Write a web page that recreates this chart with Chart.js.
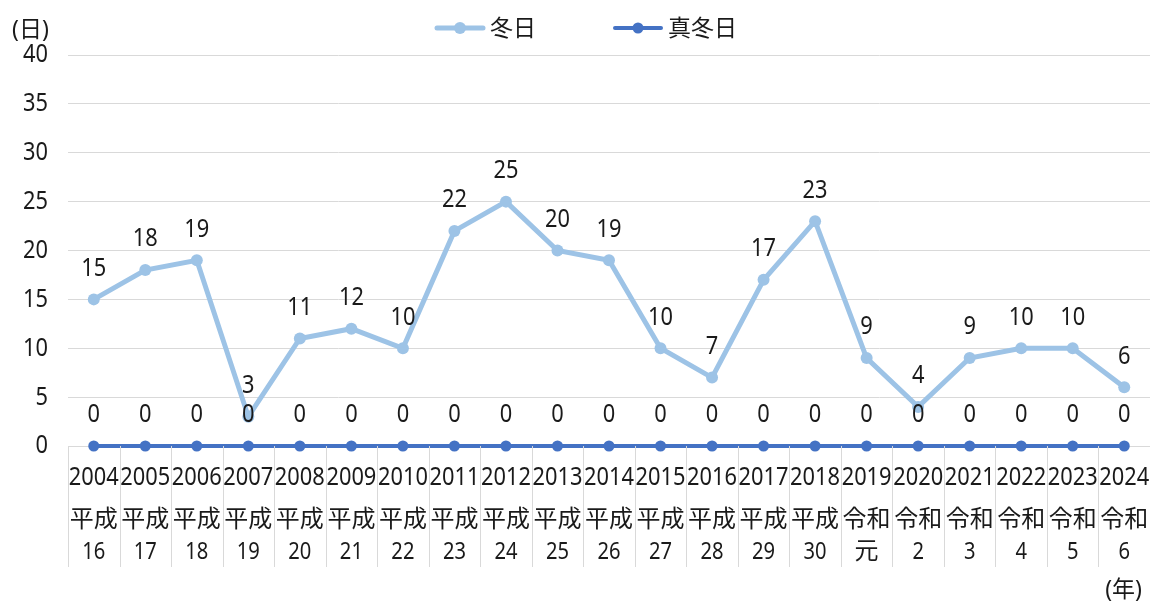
<!DOCTYPE html>
<html><head><meta charset="utf-8">
<script src="https://cdn.jsdelivr.net/npm/chart.js@4/dist/chart.umd.min.js"></script>
<style>html,body{margin:0;padding:0;background:#fff;overflow:hidden}#wrap{width:1150px;height:603px}canvas{display:block}</style>
</head><body><div id="wrap"><canvas id="c"></canvas></div>
<script>
const years = ['2004','2005','2006','2007','2008','2009','2010','2011','2012','2013','2014','2015','2016','2017','2018','2019','2020','2021','2022','2023','2024'];
const eras = [['平成','16'],['平成','17'],['平成','18'],['平成','19'],['平成','20'],['平成','21'],['平成','22'],['平成','23'],['平成','24'],['平成','25'],['平成','26'],['平成','27'],['平成','28'],['平成','29'],['平成','30'],['令和','元'],['令和','2'],['令和','3'],['令和','4'],['令和','5'],['令和','6']];
const fuyubi = [15,18,19,3,11,12,10,22,25,20,19,10,7,17,23,9,4,9,10,10,6];
const mafuyubi = [0,0,0,0,0,0,0,0,0,0,0,0,0,0,0,0,0,0,0,0,0];
const yTicks = [0,5,10,15,20,25,30,35,40];
const seriesNames = ['冬日','真冬日'];
const unitY = '(日)';
const unitX = '(年)';

// Condensed look for Latin/digit text (no narrow font installed)
(function () {
  const K = 0.84;
  const P = CanvasRenderingContext2D.prototype;
  const oFill = P.fillText, oMeasure = P.measureText;
  const ascii = s => /^[\x00-\x7f]*$/.test(String(s));
  P.fillText = function (t, x, y, mw) {
    if (ascii(t)) {
      const w = oMeasure.call(this, String(t)).width * K;
      return oFill.call(this, t, x, y, mw !== undefined ? Math.min(mw, w) : w);
    }
    return mw !== undefined ? oFill.call(this, t, x, y, mw) : oFill.call(this, t, x, y);
  };
  P.measureText = function (t) {
    const m = oMeasure.call(this, t);
    if (!ascii(t)) return m;
    return {width: m.width * K, actualBoundingBoxAscent: m.actualBoundingBoxAscent, actualBoundingBoxDescent: m.actualBoundingBoxDescent, actualBoundingBoxLeft: m.actualBoundingBoxLeft * K, actualBoundingBoxRight: m.actualBoundingBoxRight * K};
  };
})();

const FONT = "'Noto Sans','Noto Sans CJK JP',sans-serif";
const TXT = '#1a1a1a';
const GRID = '#d9d9d9';

const extras = {
  id: 'extras',
  afterDatasetsDraw(chart) {
    const ctx = chart.ctx;
    ctx.save();
    ctx.font = '26px ' + FONT;
    ctx.fillStyle = TXT;
    ctx.textAlign = 'center';
    ctx.textBaseline = 'middle';
    chart.data.datasets.forEach((ds, di) => {
      const meta = chart.getDatasetMeta(di);
      meta.data.forEach((pt, i) => {
        ctx.fillText(String(ds.data[i]), pt.x, pt.y - 31);
      });
    });
    ctx.restore();
  },
  afterDraw(chart) {
    const ctx = chart.ctx;
    const xs = chart.scales.x;
    const area = chart.chartArea;
    ctx.save();
    ctx.strokeStyle = GRID;
    ctx.lineWidth = 1;
    const n = xs.ticks.length;
    const step = n > 1 ? xs.getPixelForTick(1) - xs.getPixelForTick(0) : 0;
    for (let i = 0; i <= n; i++) {
      const x = Math.round(xs.getPixelForTick(0) - step / 2 + i * step) + 0.5;
      ctx.beginPath();
      ctx.moveTo(x, area.bottom);
      ctx.lineTo(x, 567);
      ctx.stroke();
    }
    ctx.fillStyle = TXT;
    ctx.font = '23px ' + FONT;
    ctx.textBaseline = 'middle';
    ctx.textAlign = 'left';
    ctx.fillText(unitY, 12, 30);
    ctx.textAlign = 'right';
    ctx.fillText(unitX, 1142, 590);
    const items = [{x: 435, ds: chart.data.datasets[0]}, {x: 613, ds: chart.data.datasets[1]}];
    items.forEach(it => {
      const y = 28;
      ctx.strokeStyle = it.ds.borderColor;
      ctx.lineWidth = it.ds.borderWidth;
      ctx.lineCap = 'round';
      ctx.beginPath();
      ctx.moveTo(it.x + 2, y);
      ctx.lineTo(it.x + 48, y);
      ctx.stroke();
      ctx.fillStyle = it.ds.borderColor;
      ctx.beginPath();
      ctx.arc(it.x + 25, y, it.ds.pointRadius, 0, Math.PI * 2);
      ctx.fill();
      ctx.fillStyle = TXT;
      ctx.textAlign = 'left';
      ctx.font = '23px ' + FONT;
      ctx.fillText(it.ds.label, it.x + 55, y + 1);
    });
    ctx.restore();
  }
};

new Chart(document.getElementById('c'), {
  type: 'line',
  data: {
    labels: years,
    datasets: [
      {label: seriesNames[0], data: fuyubi, borderColor: '#9dc3e6', backgroundColor: '#9dc3e6', borderWidth: 5, pointRadius: 6, pointHoverRadius: 6, pointBorderWidth: 0, tension: 0, clip: false},
      {label: seriesNames[1], data: mafuyubi, borderColor: '#4472c4', backgroundColor: '#4472c4', borderWidth: 4, pointRadius: 5.5, pointHoverRadius: 5.5, pointBorderWidth: 0, tension: 0, clip: false}
    ]
  },
  options: {
    responsive: true,
    maintainAspectRatio: false,
    animation: false,
    layout: {autoPadding: false, padding: {top: 55, right: 0, left: 0, bottom: 37}},
    plugins: {legend: {display: false}, tooltip: {enabled: false}},
    scales: {
      y: {
        min: 0, max: 40,
        afterBuildTicks(s) { s.ticks = yTicks.map(v => ({value: v})); },
        afterFit(s) { s.width = 68; s.paddingTop = 0; s.paddingBottom = 0; },
        grid: {color: GRID, lineWidth: 1, drawTicks: false},
        border: {display: false},
        ticks: {padding: 20, color: TXT, font: {size: 26, family: FONT}}
      },
      x: {
        type: 'category',
        offset: true,
        weight: 0,
        afterFit(s) { s.height = 46; s.paddingLeft = 0; s.paddingRight = 0; },
        grid: {display: false},
        border: {display: false},
        ticks: {padding: 8, color: TXT, maxRotation: 0, autoSkip: false, font: {size: 26, family: FONT}}
      },
      x2: {
        type: 'category',
        position: 'bottom',
        labels: eras,
        offset: true,
        weight: 1,
        afterFit(s) { s.height = 74; s.paddingLeft = 0; s.paddingRight = 0; },
        grid: {display: false},
        border: {display: false},
        ticks: {padding: 5, color: TXT, maxRotation: 0, autoSkip: false, font: {size: 24, family: FONT, lineHeight: 1.3}}
      }
    }
  },
  plugins: [extras]
});
</script></body></html>
